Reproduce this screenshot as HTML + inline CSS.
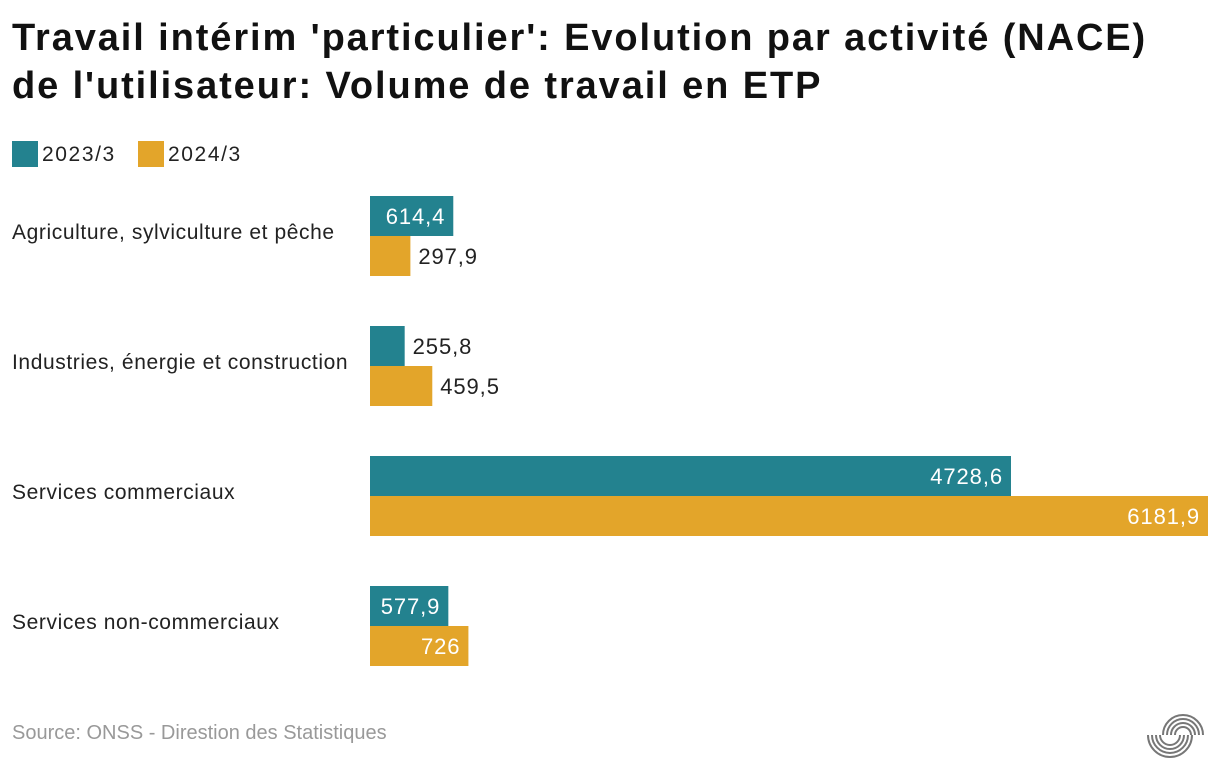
<!DOCTYPE html>
<html><head><meta charset="utf-8"><style>
body{margin:0;width:1220px;height:774px;background:#fff;font-family:"Liberation Sans",sans-serif;overflow:hidden;position:relative}
h1{position:absolute;left:12px;top:14px;margin:0;font-size:38px;line-height:48px;font-weight:bold;color:#111;letter-spacing:1.9px}
.leg{position:absolute;top:141px;font-size:21px;color:#222;letter-spacing:1.6px}
.sw{display:inline-block;width:26px;height:26px;vertical-align:-6px;margin-right:4px}
.cat{position:absolute;left:12px;font-size:21px;color:#222;letter-spacing:0.6px}
#src{position:absolute;left:12px;top:722px;font-size:20px;color:#999}
</style></head><body>
<h1>Travail intérim 'particulier': Evolution par activité (NACE)<br>de l'utilisateur: Volume de travail en ETP</h1>
<div class="leg" style="left:12px"><span class="sw" style="background:#23828f"></span>2023/3</div>
<div class="leg" style="left:138px"><span class="sw" style="background:#e3a52a"></span>2024/3</div>
<div id="cats"></div>
<svg id="chart" width="1220" height="774" style="position:absolute;left:0;top:0"></svg>
<div id="src">Source: ONSS - Direstion des Statistiques</div>
<svg width="1220" height="774" style="position:absolute;left:0;top:0">
<g fill="none" stroke="#777" stroke-width="2">
<path d="M1163,735 A20,20 0 0 1 1203,735 M1167,735 A16,16 0 0 1 1199,735 M1171,735 A12,12 0 0 1 1195,735 M1175,735 A8,8 0 0 1 1191,735"/>
<path d="M1148,735 A22,22 0 0 0 1192,735 M1152,735 A18,18 0 0 0 1188,735 M1156,735 A14,14 0 0 0 1184,735 M1160,735 A10,10 0 0 0 1180,735"/>
</g></svg>
<script>
const categories=["Agriculture, sylviculture et pêche","Industries, énergie et construction","Services commerciaux","Services non-commerciaux"];
const values2023=[614.4,255.8,4728.6,577.9];
const values2024=[297.9,459.5,6181.9,726];
const x0=370,scale=838/6181.9,top0=196,step=130,bh=40;
const xs=v=>v*scale;
const svg=document.getElementById('chart');
const NS='http://www.w3.org/2000/svg';
const fmt=v=>String(v).replace('.',',');
function bar(v,y,color,name){
  const r=document.createElementNS(NS,'rect');
  r.setAttribute('x',x0);r.setAttribute('y',y);r.setAttribute('width',xs(v));r.setAttribute('height',bh);r.setAttribute('fill',color);
  
  
  svg.appendChild(r);
  const t=document.createElementNS(NS,'text');
  const inside=xs(v)>70;
  t.setAttribute('x',inside?x0+xs(v)-8:x0+xs(v)+8);
  t.setAttribute('y',y+28);
  t.setAttribute('text-anchor',inside?'end':'start');
  t.setAttribute('font-size','22');
  t.setAttribute('letter-spacing','0.9');
  t.setAttribute('font-family','Liberation Sans, sans-serif');
  t.setAttribute('fill',inside?'#fff':'#222');
  t.textContent=fmt(v);
  
  
  svg.appendChild(t);
}
const cats=document.getElementById('cats');
categories.forEach((c,i)=>{
  const y=top0+i*step;
  bar(values2023[i],y,'#23828f','bar-2023-'+i);
  bar(values2024[i],y+bh,'#e3a52a','bar-2024-'+i);
  const d=document.createElement('div');
  d.className='cat';d.style.top=(y+25)+'px';d.textContent=c;
  
  
  cats.appendChild(d);
});
</script>
</body></html>
